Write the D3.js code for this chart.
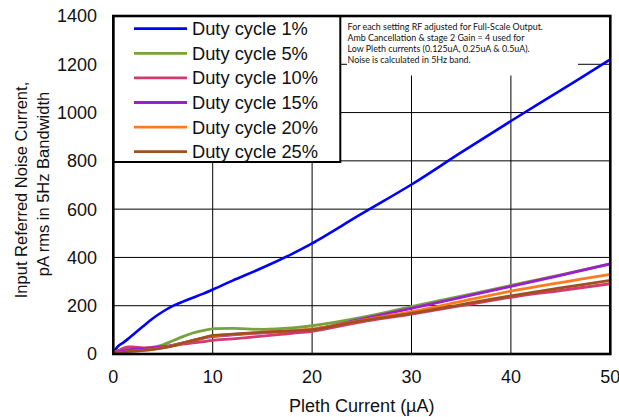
<!DOCTYPE html>
<html>
<head>
<meta charset="utf-8">
<script src="https://cdn.jsdelivr.net/npm/d3@7"></script>
<style>
  html, body { margin: 0; padding: 0; background: #fff; }
  svg { display: block; }
</style>
</head>
<body>
<svg id="chart" width="619" height="417"></svg>
<script>
// Pleth current (µA) sample points shared by every series
const plethCurrent = [0, 0.5, 1, 1.5, 2, 3, 4, 5, 6, 7, 8, 9, 10, 12, 15, 18, 20, 25, 30, 35, 40, 45, 50];

// Input referred noise (pA rms, 5 Hz band) per duty cycle
const duty1  = [5, 33, 47, 63, 80, 115, 148, 176, 199, 217, 233, 249, 267, 304, 357, 415, 458, 581, 702, 835, 965, 1092, 1220];
const duty5  = [8, 12, 15, 17, 19, 23, 28, 38, 55, 72, 87, 97, 104, 106, 102, 108, 117, 152, 196, 240, 284, 328, 373];
const duty10 = [5, 14, 24, 29, 29, 25, 26, 30, 35, 41, 46, 51, 56, 63, 74, 86, 94, 133, 165, 200, 235, 263, 291];
const duty15 = [3, 8, 13, 17, 20, 22, 25, 30, 37, 46, 56, 65, 72, 79, 88, 96, 102, 144, 189, 235, 280, 326, 373];
const duty20 = [2, 4, 7, 10, 12, 15, 19, 26, 35, 45, 56, 66, 75, 81, 89, 97, 103, 140, 175, 218, 260, 296, 330];
const duty25 = [2, 4, 7, 10, 12, 15, 19, 25, 34, 45, 56, 67, 77, 82, 90, 96, 101, 138, 168, 205, 241, 274, 305];

const seriesNames  = ["Duty cycle 1%", "Duty cycle 5%", "Duty cycle 10%", "Duty cycle 15%", "Duty cycle 20%", "Duty cycle 25%"];
const seriesValues = [duty1, duty5, duty10, duty15, duty20, duty25];
const seriesColors = ["#0000ff", "#77a33d", "#d43a6c", "#9b1fd0", "#ff7a1c", "#a0501e"];

const xTicks = [0, 10, 20, 30, 40, 50];
const yTicks = [0, 200, 400, 600, 800, 1000, 1200, 1400];

const noteLines = [
  "For each setting RF adjusted for Full-Scale Output.",
  "Amb Cancellation & stage 2 Gain = 4 used for",
  "Low Pleth currents (0.125uA, 0.25uA & 0.5uA).",
  "Noise is calculated in 5Hz band."
];

const svg = d3.select("#chart");
const plot = { left: 113.3, right: 610.3, top: 16, bottom: 354 };

const x = d3.scaleLinear().domain([0, 50]).range([plot.left, plot.right]);
const y = d3.scaleLinear().domain([0, 1400]).range([plot.bottom, plot.top]);

const font = "'Liberation Sans', Arial, sans-serif";

// gridlines
const grid = svg.append("g").attr("stroke", "#000").attr("stroke-width", 1);
grid.selectAll("line.v").data(xTicks.slice(1, -1)).join("line")
  .attr("x1", d => x(d)).attr("x2", d => x(d))
  .attr("y1", plot.top).attr("y2", plot.bottom);
grid.selectAll("line.h").data(yTicks.slice(1, -1)).join("line")
  .attr("x1", plot.left).attr("x2", plot.right)
  .attr("y1", d => y(d)).attr("y2", d => y(d));

// series
svg.append("clipPath").attr("id", "plotClip")
  .append("rect").attr("x", plot.left).attr("y", plot.top)
  .attr("width", plot.right - plot.left).attr("height", plot.bottom - plot.top);

const line = d3.line()
  .x((d, i) => x(plethCurrent[i]))
  .y(d => y(d))
  .curve(d3.curveCatmullRom.alpha(0.5));

svg.append("g").attr("clip-path", "url(#plotClip)")
  .selectAll("path").data(seriesValues).join("path")
  .attr("d", d => line(d))
  .attr("fill", "none")
  .attr("stroke", (d, i) => seriesColors[i])
  .attr("stroke-width", (d, i) => i === 0 ? 2.6 : 2.8)
  .attr("stroke-linejoin", "round");

// note text block
const note = svg.append("g");
note.append("rect").attr("x", 347).attr("y", plot.top).attr("width", 231).attr("height", 59.5).attr("fill", "#fff");
note.selectAll("text").data(noteLines).join("text")
  .attr("x", 347.5)
  .attr("y", (d, i) => 30 + i * 10.9)
  .attr("font-family", "Lato, 'Open Sans', sans-serif")
  .attr("font-size", 8.9)
  .attr("fill", "#111")
  .text(d => d);

// legend
const legend = svg.append("g");
legend.append("rect")
  .attr("x", plot.left).attr("y", plot.top)
  .attr("width", 227).attr("height", 146)
  .attr("fill", "#fff").attr("stroke", "#000").attr("stroke-width", 2);
const rowY = i => 28.7 + i * 24.6;
legend.selectAll("line").data(seriesNames).join("line")
  .attr("x1", 134).attr("x2", 187)
  .attr("y1", (d, i) => rowY(i)).attr("y2", (d, i) => rowY(i))
  .attr("stroke", (d, i) => seriesColors[i]).attr("stroke-width", 2.8);
legend.selectAll("text").data(seriesNames).join("text")
  .attr("x", 192).attr("y", (d, i) => rowY(i))
  .attr("dy", "0.36em")
  .attr("font-family", font).attr("font-size", 18.3).attr("fill", "#111")
  .text(d => d);

// plot frame
svg.append("rect")
  .attr("x", plot.left).attr("y", plot.top)
  .attr("width", plot.right - plot.left).attr("height", plot.bottom - plot.top)
  .attr("fill", "none").attr("stroke", "#000").attr("stroke-width", 2.6);

// tick labels
svg.append("g").selectAll("text").data(yTicks).join("text")
  .attr("x", 97).attr("y", d => y(d)).attr("dy", "0.36em")
  .attr("text-anchor", "end")
  .attr("font-family", font).attr("font-size", 18).attr("fill", "#111")
  .text(d => d);
svg.append("g").selectAll("text").data(xTicks).join("text")
  .attr("x", d => x(d)).attr("y", 382.7)
  .attr("text-anchor", "middle")
  .attr("font-family", font).attr("font-size", 18).attr("fill", "#111")
  .text(d => d);

// axis titles
svg.append("text")
  .attr("x", (plot.left + plot.right) / 2).attr("y", 412)
  .attr("text-anchor", "middle")
  .attr("font-family", font).attr("font-size", 18).attr("fill", "#111")
  .text("Pleth Current (µA)");

const yTitle = ["Input Referred Noise Current,", "pA rms in 5Hz Bandwidth"];
svg.append("g").selectAll("text").data(yTitle).join("text")
  .attr("transform", (d, i) => `translate(${27 + i * 22},${i === 0 ? 190 : 184}) rotate(-90)`)
  .attr("text-anchor", "middle")
  .attr("font-family", font).attr("font-size", 16.5).attr("fill", "#111")
  .text(d => d);
</script>
</body>
</html>
